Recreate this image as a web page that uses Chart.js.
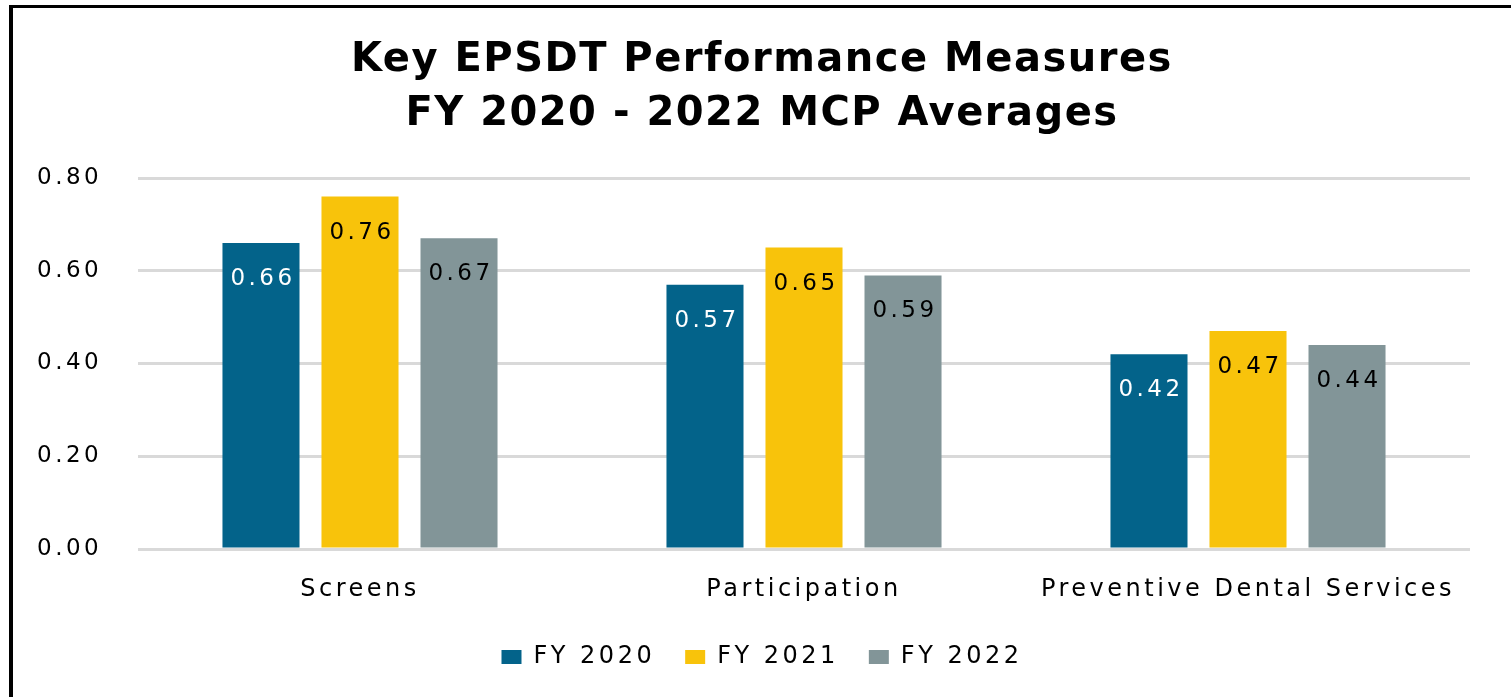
<!DOCTYPE html>
<html>
<head>
<meta charset="utf-8">
<script src="https://cdn.jsdelivr.net/npm/chart.js@4.4.1/dist/chart.umd.min.js"></script>
<style>
  html, body { margin: 0; padding: 0; background: #fff; overflow: hidden; }
  #wrap { position: relative; width: 1511px; height: 697px; }
  #frame { position: absolute; left: 9px; top: 5px; width: 1600px; height: 800px;
           border-left: 4px solid #000; border-top: 3px solid #000; }
  #c { position: absolute; left: 0; top: 0; }
</style>
</head>
<body>
<div id="wrap">
  <div id="frame"></div>
  <canvas id="c" width="1511" height="697"></canvas>
</div>
<script>
const categories = ['Screens', 'Participation', 'Preventive Dental Services'];
const seriesNames = ['FY 2020', 'FY 2021', 'FY 2022'];
const fy2020 = [0.66, 0.57, 0.42];
const fy2021 = [0.76, 0.65, 0.47];
const fy2022 = [0.67, 0.59, 0.44];
const titleLines = ['Key EPSDT Performance Measures', 'FY 2020 - 2022 MCP Averages'];

const colors = ['#03638a', '#f8c30b', '#829598'];
const labelColors = ['#ffffff', '#000000', '#000000'];
const SPACING = '3.5px';
const TITLE_SPACING = '1.5px';

const spacingPlugin = {
  id: 'spacing',
  beforeUpdate(chart) { chart.ctx.letterSpacing = SPACING; },
  beforeDraw(chart) { chart.ctx.letterSpacing = SPACING; }
};

const valueLabels = {
  id: 'valueLabels',
  afterDatasetsDraw(chart) {
    const ctx = chart.ctx;
    ctx.save();
    ctx.letterSpacing = SPACING;
    ctx.font = '23px "DejaVu Sans"';
    ctx.textAlign = 'center';
    ctx.textBaseline = 'middle';
    chart.data.datasets.forEach((ds, i) => {
      const meta = chart.getDatasetMeta(i);
      meta.data.forEach((bar, j) => {
        ctx.fillStyle = labelColors[i];
        ctx.fillText(ds.data[j].toFixed(2), bar.x + 2, bar.y + 36);
      });
    });
    ctx.restore();
  }
};

const chart = new Chart(document.getElementById('c'), {
  type: 'bar',
  data: {
    labels: categories,
    datasets: [
      { label: seriesNames[0], data: fy2020, backgroundColor: colors[0] },
      { label: seriesNames[1], data: fy2021, backgroundColor: colors[1] },
      { label: seriesNames[2], data: fy2022, backgroundColor: colors[2] }
    ]
  },
  options: {
    responsive: false,
    animation: false,
    devicePixelRatio: 1,
    categoryPercentage: 0.669,
    barPercentage: 0.778,
    layout: { padding: { top: 0, left: 54, right: 41, bottom: 18 } },
    plugins: {
      title: {
        display: true,
        text: titleLines,
        color: '#000',
        font: { family: '"DejaVu Sans"', size: 40, weight: 'bold', lineHeight: 1.3625 },
        padding: { top: 33, bottom: 36 }
      },
      legend: {
        position: 'bottom',
        labels: {
          color: '#000',
          font: { family: '"DejaVu Sans"', size: 24 },
          boxWidth: 20,
          boxHeight: 14,
          padding: 30
        }
      },
      tooltip: { enabled: false }
    },
    scales: {
      x: {
        grid: { display: false },
        border: { display: false },
        ticks: { color: '#000', padding: 18, font: { family: '"DejaVu Sans"', size: 24, lineHeight: 1.2 } },
        afterFit(s) { s.height = 66; }
      },
      y: {
        min: 0, max: 0.8,
        border: { display: false },
        grid: { color: '#d9d9d9', lineWidth: 3, drawTicks: false },
        ticks: {
          stepSize: 0.2, color: '#000', mirror: true, padding: -101,
          font: { family: '"DejaVu Sans"', size: 23 },
          callback: v => Number(v).toFixed(2)
        },
        afterFit(s) { s.width = 84; }
      }
    }
  },
  plugins: [spacingPlugin, valueLabels]
});

// Title uses tighter letter spacing than the rest of the chart text
const tb = chart.titleBlock;
if (tb) {
  const origDraw = tb.draw.bind(tb);
  tb.draw = function () {
    const ctx = chart.ctx;
    ctx.save();
    ctx.letterSpacing = TITLE_SPACING;
    origDraw();
    ctx.restore();
  };
  chart.draw();
}
</script>
</body>
</html>
